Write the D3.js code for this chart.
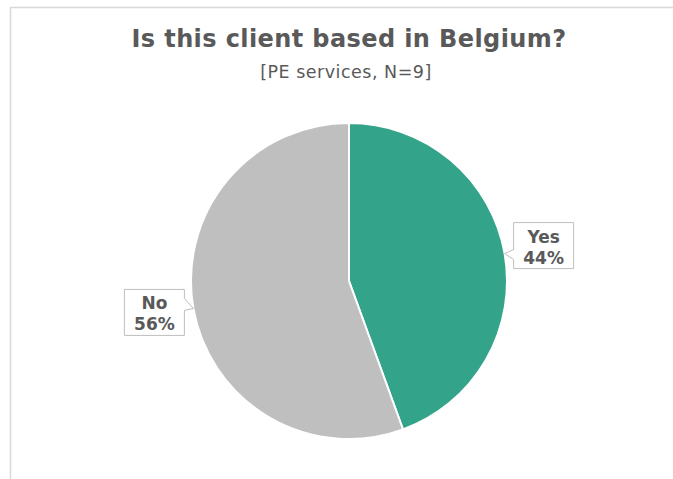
<!DOCTYPE html>
<html>
<head>
<meta charset="utf-8">
<script src="https://cdn.jsdelivr.net/npm/d3@7"></script>
<style>
  html, body { margin: 0; padding: 0; background: #ffffff; }
  svg { display: block; }
</style>
</head>
<body>
<div id="chart"></div>
<script>
// Survey answers (PE services, N=9)
const categories = ["Yes", "No"];
const counts = [4, 5];
const percentLabels = ["44%", "56%"];
const colors = ["#33a48a", "#bfbfbf"];

const titleText = "Is this client based in Belgium?";
const subtitleText = "[PE services, N=9]";

const W = 673, H = 479;
const cx = 349, cy = 281, R = 158;
const textColor = "#595959";

const svg = d3.select("#chart").append("svg")
  .attr("width", W).attr("height", H);

// Chart frame
svg.append("path")
  .attr("d", `M10.5,${H} V7.5 H${W}`)
  .attr("fill", "none")
  .attr("stroke", "#d9d9d9")
  .attr("stroke-width", 1.5);

// Titles
svg.append("text")
  .attr("x", 349).attr("y", 47)
  .attr("text-anchor", "middle")
  .attr("font-family", "Verdana, 'DejaVu Sans', sans-serif")
  .attr("font-weight", "bold")
  .attr("font-size", 24)
  .attr("letter-spacing", 0.4)
  .attr("fill", textColor)
  .text(titleText);

svg.append("text")
  .attr("x", 346).attr("y", 78)
  .attr("text-anchor", "middle")
  .attr("font-family", "Verdana, 'DejaVu Sans', sans-serif")
  .attr("font-size", 17.5)
  .attr("letter-spacing", 0.5)
  .attr("fill", textColor)
  .text(subtitleText);

const data = categories.map((c, i) => ({ cat: c, value: counts[i], label: percentLabels[i], color: colors[i] }));

const pie = d3.pie().sort(null).value(d => d.value);
const arcs = pie(data);
const arc = d3.arc().innerRadius(0).outerRadius(R);

const g = svg.append("g").attr("transform", `translate(${cx},${cy})`);

g.selectAll("path.slice")
  .data(arcs)
  .enter().append("path")
  .attr("class", "slice")
  .attr("d", arc)
  .attr("fill", d => d.data.color)
  .attr("stroke", "#ffffff")
  .attr("stroke-width", 2)
  .attr("stroke-linejoin", "round");

// Callout labels anchored on the rim at each slice's mid-angle
const boxW = 60, boxH = 46, gap = 9;
arcs.forEach((a, i) => {
  const mid = (a.startAngle + a.endAngle) / 2;
  const tx = R * Math.sin(mid), ty = -R * Math.cos(mid);
  const right = tx >= 0;
  const bx = right ? tx + gap : tx - gap - boxW;
  const by = right ? ty - 31 : ty - 19;
  const edgeX = right ? bx : bx + boxW;
  // pointer base on the box side nearest the pie
  const p0 = right ? ty - 4 : ty - 10;
  const p1 = right ? ty + 6 : ty + 2;

  const path = right
    ? `M${bx},${by} H${bx + boxW} V${by + boxH} H${bx} V${p1} L${tx},${ty} L${bx},${p0} Z`
    : `M${bx},${by} H${bx + boxW} V${p0} L${tx},${ty} L${edgeX},${p1} V${by + boxH} H${bx} Z`;

  g.append("path")
    .attr("d", path)
    .attr("fill", "#ffffff")
    .attr("stroke", "#bfbfbf")
    .attr("stroke-width", 1);

  const t = g.append("text")
    .attr("text-anchor", "middle")
    .attr("font-family", "Verdana, 'DejaVu Sans', sans-serif")
    .attr("font-weight", "bold")
    .attr("font-size", 17)
    .attr("fill", textColor);
  t.append("tspan").attr("x", bx + boxW / 2).attr("y", by + 20).text(a.data.cat);
  t.append("tspan").attr("x", bx + boxW / 2).attr("y", by + 41).text(a.data.label);
});
</script>
</body>
</html>
